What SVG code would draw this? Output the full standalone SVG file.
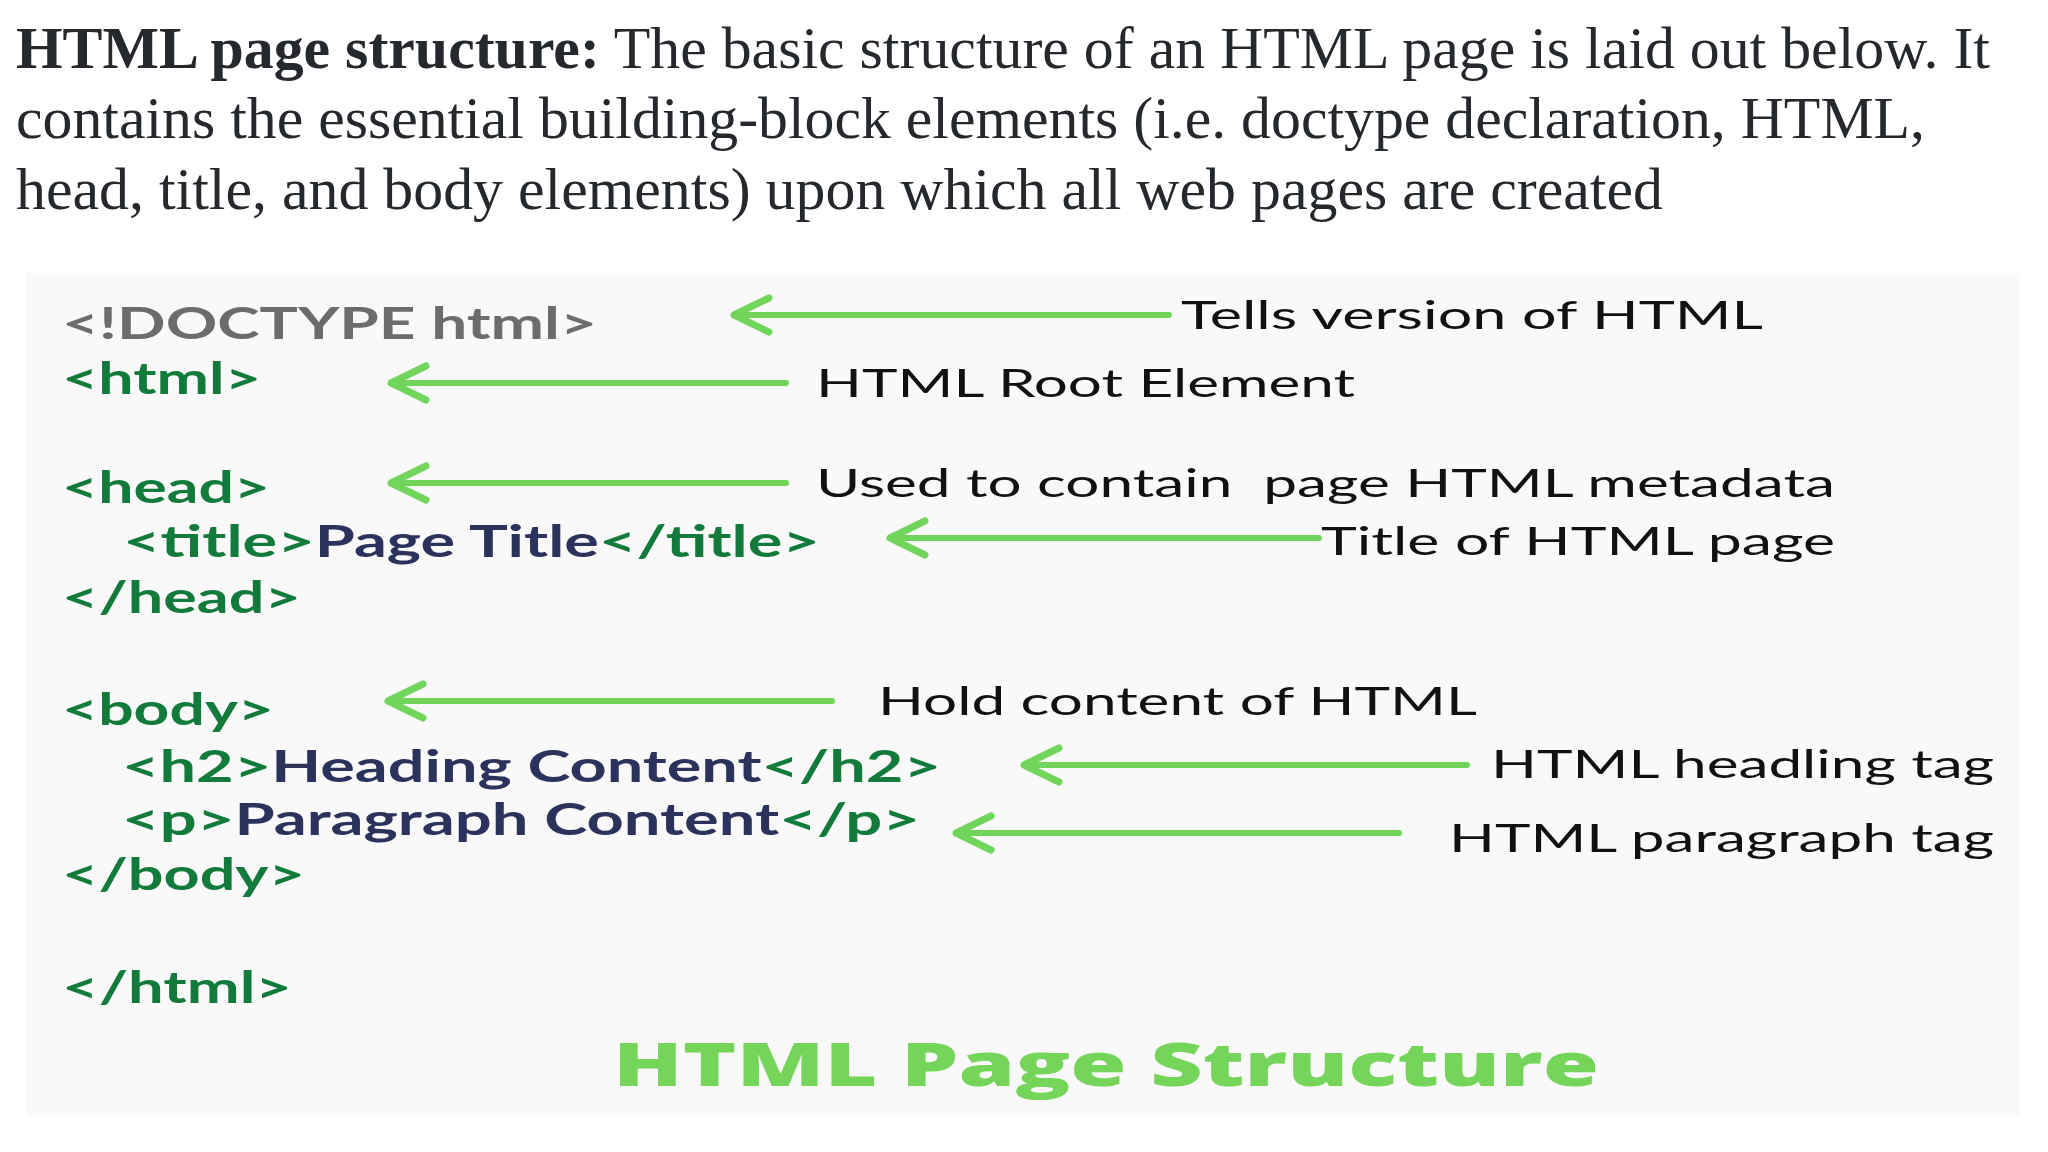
<svg xmlns="http://www.w3.org/2000/svg" width="2048" height="1152" viewBox="0 0 2048 1152">
  <style>
    .intro { font-family: "Liberation Serif", "Times New Roman", serif; font-size: 60px; fill: #25292d; }
    .b { font-weight: bold; }
    .code { font-family: Lato, "Open Sans", sans-serif; font-weight: bold; font-size: 44px; fill: #127a3a; }
    .doctype { fill: #6c6c6c; }
    .navy { fill: #2b325c; }
    .label { font-family: Lato, "Open Sans", sans-serif; font-size: 39px; fill: #111111; }
    .footer { font-family: "Open Sans", Lato, sans-serif; font-weight: 800; font-size: 61px; fill: #74d55a; }
    .arrow { stroke: #70d55a; stroke-width: 6; fill: none; stroke-linecap: round; }
  </style>
  <defs>
    <marker id="chev" viewBox="0 0 40 40" refX="38" refY="20" markerWidth="40" markerHeight="40" markerUnits="userSpaceOnUse" orient="auto" overflow="visible">
      <path d="M3,3 L38,20 L3,37" fill="none" stroke="#70d55a" stroke-width="7" stroke-linecap="round" stroke-linejoin="round"/>
    </marker>
  </defs>
  <rect width="2048" height="1152" fill="#ffffff"/>

  <g id="intro">
    <text class="intro" x="16" y="68" textLength="1974" lengthAdjust="spacingAndGlyphs"><tspan class="b">HTML page structure:</tspan> The basic structure of an HTML page is laid out below. It</text>
    <text class="intro" x="16" y="138" textLength="1909" lengthAdjust="spacingAndGlyphs">contains the essential building-block elements (i.e. doctype declaration, HTML,</text>
    <text class="intro" x="16" y="209" textLength="1647" lengthAdjust="spacingAndGlyphs">head, title, and body elements) upon which all web pages are created</text>
  </g>

  <rect id="panel" x="26" y="273" width="1994" height="843" fill="#f9f9f9"/>

  <g id="code">
    <g id="doctype"><text class="code doctype" x="62" y="339" textLength="535" lengthAdjust="spacingAndGlyphs">&lt;!DOCTYPE html&gt;</text></g>
    <g id="html-open"><text class="code" x="62" y="394" textLength="199" lengthAdjust="spacingAndGlyphs">&lt;html&gt;</text></g>
    <g id="head-open"><text class="code" x="62" y="503" textLength="208" lengthAdjust="spacingAndGlyphs">&lt;head&gt;</text></g>
    <g id="title"><text class="code" x="123" y="557" textLength="697" lengthAdjust="spacingAndGlyphs">&lt;title&gt;<tspan class="navy">Page Title</tspan>&lt;/title&gt;</text></g>
    <g id="head-close"><text class="code" x="62" y="613" textLength="239" lengthAdjust="spacingAndGlyphs">&lt;/head&gt;</text></g>
    <g id="body-open"><text class="code" x="62" y="725" textLength="212" lengthAdjust="spacingAndGlyphs">&lt;body&gt;</text></g>
    <g id="h2"><text class="code" x="122" y="782" textLength="819" lengthAdjust="spacingAndGlyphs">&lt;h2&gt;<tspan class="navy">Heading Content</tspan>&lt;/h2&gt;</text></g>
    <g id="p"><text class="code" x="122" y="835" textLength="798" lengthAdjust="spacingAndGlyphs">&lt;p&gt;<tspan class="navy">Paragraph Content</tspan>&lt;/p&gt;</text></g>
    <g id="body-close"><text class="code" x="62" y="890" textLength="243" lengthAdjust="spacingAndGlyphs">&lt;/body&gt;</text></g>
    <g id="html-close"><text class="code" x="62" y="1003" textLength="230" lengthAdjust="spacingAndGlyphs">&lt;/html&gt;</text></g>
  </g>

  <g id="labels">
    <g id="lbl-doctype"><text class="label" x="1181" y="329" textLength="582" lengthAdjust="spacingAndGlyphs">Tells version of HTML</text></g>
    <g id="lbl-html"><text class="label" x="816" y="397" textLength="539" lengthAdjust="spacingAndGlyphs">HTML Root Element</text></g>
    <g id="lbl-head"><text class="label" x="816" y="497" textLength="1019" lengthAdjust="spacingAndGlyphs" xml:space="preserve">Used to contain  page HTML metadata</text></g>
    <g id="lbl-title"><text class="label" x="1321" y="555" textLength="514" lengthAdjust="spacingAndGlyphs">Title of HTML page</text></g>
    <g id="lbl-body"><text class="label" x="878" y="715" textLength="599" lengthAdjust="spacingAndGlyphs">Hold content of HTML</text></g>
    <g id="lbl-h2"><text class="label" x="1491" y="778" textLength="503" lengthAdjust="spacingAndGlyphs">HTML headling tag</text></g>
    <g id="lbl-p"><text class="label" x="1449" y="852" textLength="545" lengthAdjust="spacingAndGlyphs">HTML paragraph tag</text></g>
  </g>

  <g id="connectors">
    <path class="arrow" d="M1169,315 L734,315" marker-end="url(#chev)"/>
    <path class="arrow" d="M786,383 L391,383" marker-end="url(#chev)"/>
    <path class="arrow" d="M786,483 L391,483" marker-end="url(#chev)"/>
    <path class="arrow" d="M1319,538 L890,538" marker-end="url(#chev)"/>
    <path class="arrow" d="M832,701 L388,701" marker-end="url(#chev)"/>
    <path class="arrow" d="M1467,765 L1024,765" marker-end="url(#chev)"/>
    <path class="arrow" d="M1399,833 L956,833" marker-end="url(#chev)"/>
  </g>

  <g id="footer">
    <text class="footer" x="613" y="1086" textLength="986" lengthAdjust="spacingAndGlyphs">HTML Page Structure</text>
  </g>
</svg>
